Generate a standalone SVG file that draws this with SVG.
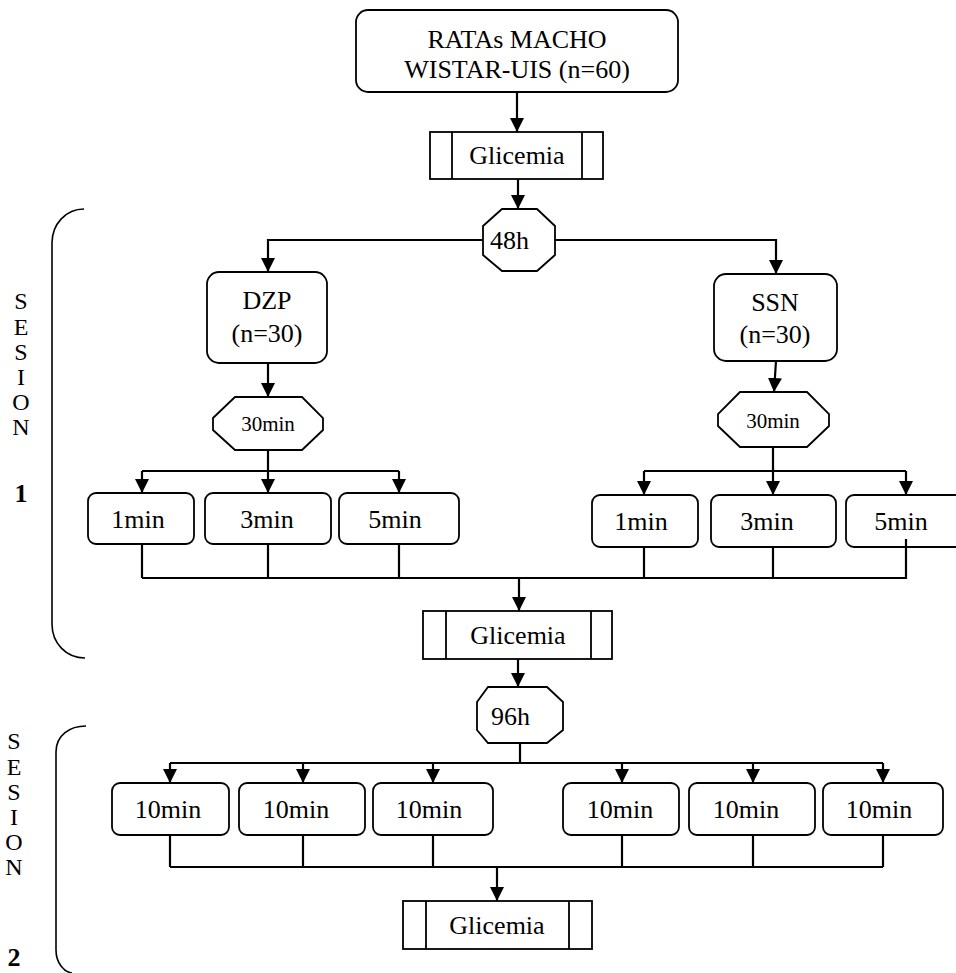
<svg xmlns="http://www.w3.org/2000/svg" width="956" height="973" viewBox="0 0 956 973">
<style>
.box{fill:#fff;stroke:#000;stroke-width:1.8}
.ln{fill:none;stroke:#000;stroke-width:2.2}
.br{fill:none;stroke:#000;stroke-width:1.6}
text{font-family:'Liberation Serif','Times New Roman','DejaVu Serif',serif;font-size:26px;fill:#000;text-anchor:middle}
.sm{font-size:21px}
.lbl{font-size:24px}
.bold{font-weight:bold;font-size:26px}
.st{text-anchor:start}
</style>
<defs>
<marker id="ah" viewBox="0 0 14 14" refX="14" refY="7" markerWidth="14" markerHeight="14" markerUnits="userSpaceOnUse" orient="auto">
<path d="M0,0 L14,7 L0,14 z" fill="#000"/>
</marker>
</defs>
<rect width="956" height="973" fill="#fff"/>

<g id="start">
<rect class="box" x="356" y="10" width="322" height="82" rx="12"/>
<text x="517" y="48">RATAs MACHO</text>
<text x="517" y="78">WISTAR-UIS (n=60)</text>
</g>

<g id="glicemia1">
<rect class="box" x="430" y="132" width="173" height="47"/>
<path class="box" d="M452,132 V179 M582,132 V179"/>
<text x="517" y="164">Glicemia</text>
</g>

<g id="wait48">
<polygon class="box" points="502,209 537,209 555,226 555,255 537,271 502,271 483,255 483,226"/>
<text class="st" x="490" y="249">48h</text>
</g>

<g id="dzp">
<rect class="box" x="207" y="272" width="120" height="91" rx="12"/>
<text x="267" y="309">DZP</text>
<text x="267" y="342">(n=30)</text>
</g>

<g id="ssn">
<rect class="box" x="714" y="274" width="123" height="87" rx="12"/>
<text x="775" y="311">SSN</text>
<text x="775" y="343">(n=30)</text>
</g>

<g id="wait30-dzp">
<polygon class="box" points="235,397 302,397 323,418 323,430 302,450 235,450 213,430 213,418"/>
<text class="sm" x="268" y="431">30min</text>
</g>

<g id="wait30-ssn">
<polygon class="box" points="740,392 807,392 829,414 829,426 807,447 740,447 718,426 718,414"/>
<text class="sm" x="773" y="428">30min</text>
</g>

<g id="dzp-1min"><rect class="box" x="88" y="493" width="106" height="51" rx="8"/><text x="138" y="528">1min</text></g>
<g id="dzp-3min"><rect class="box" x="205" y="493" width="126" height="51" rx="8"/><text x="267" y="528">3min</text></g>
<g id="dzp-5min"><rect class="box" x="339" y="493" width="120" height="51" rx="8"/><text x="395" y="528">5min</text></g>

<g id="ssn-1min"><rect class="box" x="592" y="495" width="106" height="52" rx="8"/><text x="641" y="530">1min</text></g>
<g id="ssn-3min"><rect class="box" x="711" y="495" width="125" height="52" rx="8"/><text x="767" y="530">3min</text></g>
<g id="ssn-5min"><rect class="box" x="846" y="495" width="130" height="52" rx="8"/><text x="901" y="530">5min</text></g>

<g id="glicemia2">
<rect class="box" x="423" y="611" width="189" height="48"/>
<path class="box" d="M446,611 V659 M591,611 V659"/>
<text x="518" y="644">Glicemia</text>
</g>

<g id="wait96">
<polygon class="box" points="488,687 547,687 563,702 563,730 547,743 488,743 477,730 477,702"/>
<text class="st" x="491" y="725">96h</text>
</g>

<g id="s2-a"><rect class="box" x="112" y="783" width="117" height="52" rx="8"/><text x="168" y="818">10min</text></g>
<g id="s2-b"><rect class="box" x="239" y="783" width="126" height="52" rx="8"/><text x="296" y="818">10min</text></g>
<g id="s2-c"><rect class="box" x="373" y="783" width="120" height="52" rx="8"/><text x="429" y="818">10min</text></g>
<g id="s2-d"><rect class="box" x="563" y="783" width="116" height="52" rx="8"/><text x="620" y="818">10min</text></g>
<g id="s2-e"><rect class="box" x="689" y="783" width="126" height="52" rx="8"/><text x="746" y="818">10min</text></g>
<g id="s2-f"><rect class="box" x="823" y="783" width="120" height="52" rx="8"/><text x="879" y="818">10min</text></g>

<g id="glicemia3">
<rect class="box" x="403" y="901" width="189" height="48"/>
<path class="box" d="M426,901 V949 M569,901 V949"/>
<text x="497" y="934">Glicemia</text>
</g>

<g id="session1">
<path class="br" d="M84,209 C66,209 52,224 52,243 V624 C52,643 66,658 85,658"/>
<text class="lbl" x="21" y="309">S</text>
<text class="lbl" x="21" y="335">E</text>
<text class="lbl" x="21" y="360">S</text>
<text class="lbl" x="21" y="385">I</text>
<text class="lbl" x="21" y="410">O</text>
<text class="lbl" x="21" y="435">N</text>
<text class="bold" x="21" y="502">1</text>
</g>

<g id="session2">
<path class="br" d="M86,726 C70,726 56,735 56,752 V950 C56,963 64,972 72,973"/>
<text class="lbl" x="14" y="749">S</text>
<text class="lbl" x="14" y="775">E</text>
<text class="lbl" x="14" y="800">S</text>
<text class="lbl" x="14" y="825">I</text>
<text class="lbl" x="14" y="850">O</text>
<text class="lbl" x="14" y="875">N</text>
<text class="bold" x="14" y="966">2</text>
</g>

<g id="connectors">
<path class="ln" d="M517,92 V132" marker-end="url(#ah)"/>
<path class="ln" d="M518,179 V209" marker-end="url(#ah)"/>
<path class="ln" d="M483,240 H268 V272" marker-end="url(#ah)"/>
<path class="ln" d="M555,240 H776 V274" marker-end="url(#ah)"/>
<path class="ln" d="M268,363 V397" marker-end="url(#ah)"/>
<path class="ln" d="M776,361 L774,392" marker-end="url(#ah)"/>
<path class="ln" d="M268,450 V471 M142,471 H399"/>
<path class="ln" d="M142,471 V493" marker-end="url(#ah)"/>
<path class="ln" d="M268,471 V493" marker-end="url(#ah)"/>
<path class="ln" d="M399,471 V493" marker-end="url(#ah)"/>
<path class="ln" d="M773,447 V471 M644,471 H906"/>
<path class="ln" d="M644,471 V495" marker-end="url(#ah)"/>
<path class="ln" d="M773,471 V495" marker-end="url(#ah)"/>
<path class="ln" d="M906,471 V495" marker-end="url(#ah)"/>
<path class="ln" d="M142,544 V578 M268,544 V578 M399,544 V578 M644,547 V578 M773,547 V578 M142,578 H906 V539"/>
<path class="ln" d="M519,578 V611" marker-end="url(#ah)"/>
<path class="ln" d="M518,659 V687" marker-end="url(#ah)"/>
<path class="ln" d="M520,743 V763 M170,763 H883"/>
<path class="ln" d="M170,763 V783" marker-end="url(#ah)"/>
<path class="ln" d="M303,763 V783" marker-end="url(#ah)"/>
<path class="ln" d="M433,763 V783" marker-end="url(#ah)"/>
<path class="ln" d="M622,763 V783" marker-end="url(#ah)"/>
<path class="ln" d="M753,763 V783" marker-end="url(#ah)"/>
<path class="ln" d="M883,763 V783" marker-end="url(#ah)"/>
<path class="ln" d="M170,835 V867 M303,835 V867 M433,835 V867 M622,835 V867 M753,835 V867 M883,835 V867 M170,867 H883"/>
<path class="ln" d="M497,867 V901" marker-end="url(#ah)"/>
</g>
</svg>
